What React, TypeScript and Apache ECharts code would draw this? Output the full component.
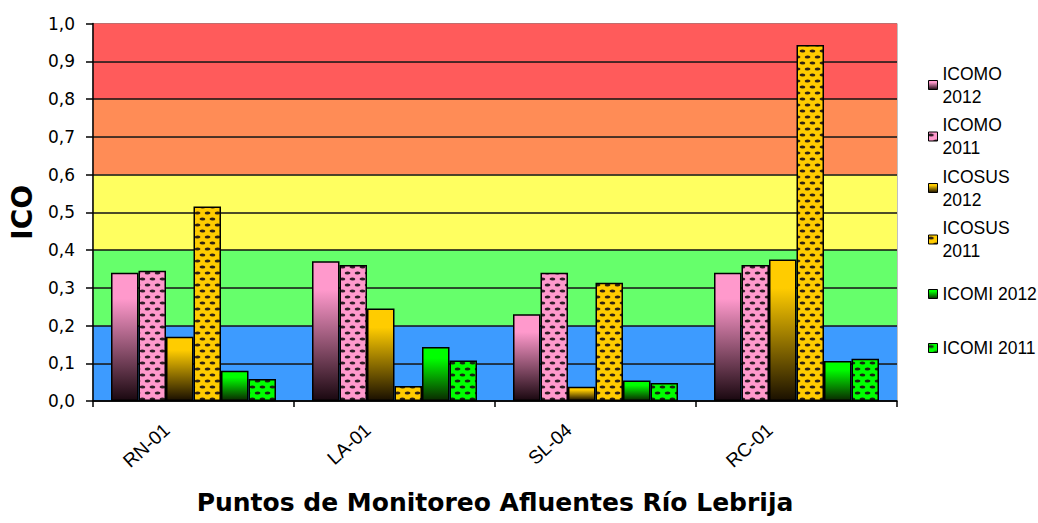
import React, { useEffect, useRef } from "react";
import * as echarts from "echarts";

const categories = ["RN-01", "LA-01", "SL-04", "RC-01"];
const seriesNames = ["ICOMO 2012", "ICOMO 2011", "ICOSUS 2012", "ICOSUS 2011", "ICOMI 2012", "ICOMI 2011"];
const legendLabels = ["ICOMO\n2012", "ICOMO\n2011", "ICOSUS\n2012", "ICOSUS\n2011", "ICOMI 2012", "ICOMI 2011"];
const icomo2012 = [0.34, 0.37, 0.23, 0.34];
const icomo2011 = [0.345, 0.36, 0.34, 0.36];
const icosus2012 = [0.17, 0.245, 0.038, 0.375];
const icosus2011 = [0.515, 0.04, 0.313, 0.943];
const icomi2012 = [0.08, 0.143, 0.054, 0.106];
const icomi2011 = [0.058, 0.107, 0.048, 0.112];
const yTicks = [0, 0.1, 0.2, 0.3, 0.4, 0.5, 0.6, 0.7, 0.8, 0.9, 1.0];
const bandColors = ["#3d9bff", "#3d9bff", "#66ff6b", "#66ff6b", "#ffff60", "#ffff60", "#ff8c56", "#ff8c56", "#ff5b5b", "#ff5b5b"];
const legendIconCenters = [85, 136.5, 188, 239.5, 294, 348];

function makePattern(bg: string) {
  const c = document.createElement("canvas");
  c.width = 10;
  c.height = 12;
  const ctx = c.getContext("2d")!;
  ctx.fillStyle = bg;
  ctx.fillRect(0, 0, 10, 12);
  ctx.fillStyle = "rgba(25,15,20,0.9)";
  const dots = [
    [2.5, 3],
    [7.5, 9],
    [-2.5, 9],
    [12.5, 3],
  ];
  ctx.beginPath();
  for (const [x, y] of dots) {
    ctx.moveTo(x + 2.8, y);
    ctx.ellipse(x, y, 2.8, 1.5, 0, 0, Math.PI * 2);
  }
  ctx.fill();
  return { image: c, repeat: "repeat" } as any;
}

function grad(top: string, bottom: string) {
  return new echarts.graphic.LinearGradient(0, 0, 0, 1, [
    { offset: 0, color: top },
    { offset: 0.2, color: top },
    { offset: 1, color: bottom },
  ]);
}

export default function App() {
  const ref = useRef<HTMLDivElement>(null);
  useEffect(() => {
    document.body.style.margin = "0";
    const chart = echarts.init(ref.current!, null, { renderer: "svg" });
    const colors = [
      grad("#ff99cc", "#1a0810"),
      makePattern("#ff99cc"),
      grad("#ffcc00", "#1a1000"),
      makePattern("#ffcc00"),
      grad("#00ff00", "#0a2a00"),
      makePattern("#00ff00"),
    ];
    const values = [icomo2012, icomo2011, icosus2012, icosus2011, icomi2012, icomi2011];
    const legends = seriesNames.map((name, i) => {
      const twoLine = legendLabels[i].includes("\n");
      return {
        orient: "vertical",
        left: 928,
        top: twoLine ? legendIconCenters[i] - 34.5 : legendIconCenters[i] - 11.5,
        padding: 0,
        itemWidth: 9,
        itemHeight: 9,
        icon: "rect",
        data: [name],
        formatter: () => legendLabels[i],
        itemStyle: { borderColor: "#000", borderWidth: 1 },
        textStyle: {
          fontFamily: "Liberation Sans",
          fontSize: 17.5,
          color: "#000",
          lineHeight: 23,
          padding: twoLine ? [23, 0, 0, 0] : 0,
        },
        selectedMode: false,
      };
    });
    chart.setOption({
      animation: false,
      legend: legends,
      grid: {
        left: 91,
        right: 141,
        top: 23.5,
        bottom: 122,
        show: true,
        borderColor: "#808080",
        borderWidth: 1,
        backgroundColor: "transparent",
      },
      xAxis: {
        type: "category",
        data: categories,
        name: "Puntos de Monitoreo Afluentes Río Lebrija",
        nameLocation: "middle",
        nameGap: 89,
        nameTextStyle: { fontFamily: "DejaVu Sans", fontWeight: "bold", fontSize: 25, color: "#000" },
        axisLine: { lineStyle: { color: "#000", width: 1.5 } },
        axisTick: { show: true, length: 6, lineStyle: { color: "#000", width: 1.5 } },
        axisLabel: {
          rotate: 42,
          margin: 2,
          fontFamily: "Liberation Sans",
          fontSize: 19,
          color: "#000",
          padding: [0, 36, 0, 0],
        },
      },
      yAxis: {
        type: "value",
        min: 0,
        max: 1,
        interval: 0.1,
        name: "ICO",
        nameLocation: "middle",
        nameGap: 57,
        nameTextStyle: { fontFamily: "DejaVu Sans", fontWeight: "bold", fontSize: 28, color: "#000" },
        axisLine: { show: true, lineStyle: { color: "#000", width: 1.5 } },
        axisTick: { show: true, length: 7, lineStyle: { color: "#000", width: 1.5 } },
        axisLabel: {
          margin: 18,
          fontFamily: "DejaVu Sans",
          fontSize: 17,
          color: "#000",
          formatter: (v: number) => {
            const t = yTicks.find((x) => Math.abs(x - v) < 1e-6);
            return (t ?? v).toFixed(1).replace(".", ",");
          },
        },
        splitLine: { show: true, showMaxLine: false, lineStyle: { color: "#111", width: 1.5 } },
        splitArea: { show: true, areaStyle: { color: bandColors, opacity: 1 } },
      },
      series: seriesNames.map((name, i) => ({
        name,
        type: "bar",
        data: values[i],
        barWidth: 27.5,
        barGap: "0%",
        itemStyle: { color: colors[i], borderColor: "#000", borderWidth: 1.5 },
      })),
    });
    return () => chart.dispose();
  }, []);
  return <div ref={ref} style={{ width: 1038, height: 523 }} />;
}
